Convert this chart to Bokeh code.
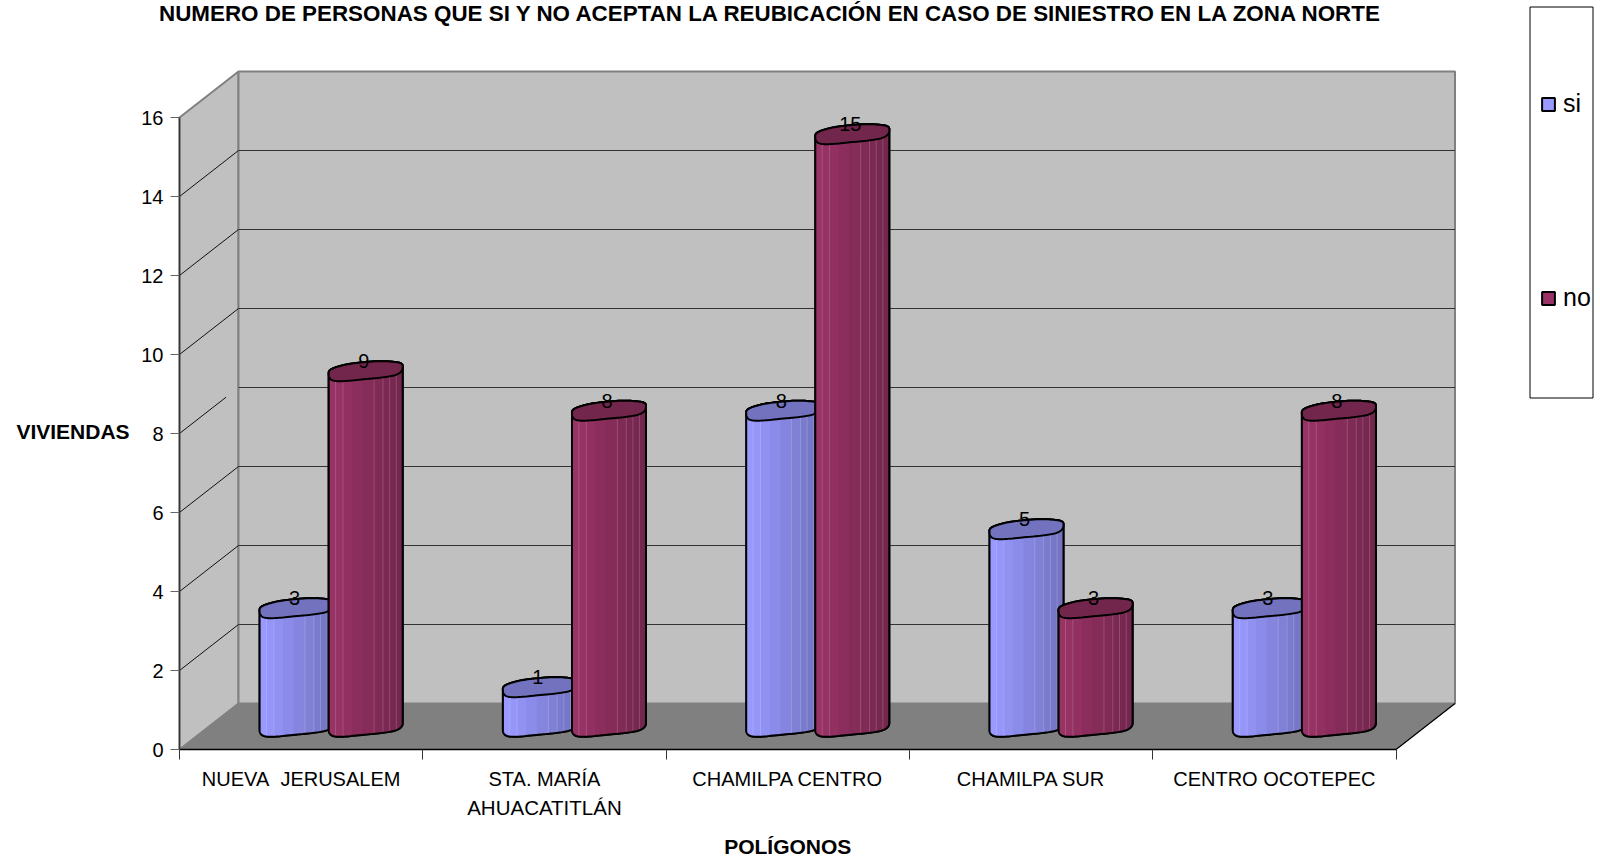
import numpy as np
from bokeh.plotting import figure
from bokeh.embed import file_html
from bokeh.resources import INLINE
from bokeh.models import Range1d, FixedTicker, LinearAxis, Legend, LegendItem, AllLabels, Label
from bokeh.core.properties import value

categories = ["NUEVA\u00a0 JERUSALEM", "STA. MARÍA", "CHAMILPA CENTRO", "CHAMILPA SUR", "CENTRO OCOTEPEC"]
category_second_line = "AHUACATITLÁN"
si_values = [3, 1, 8, 5, 3]
no_values = [9, 8, 15, 3, 8]
y_ticks = [0, 2, 4, 6, 8, 10, 12, 14, 16]
title_text = "NUMERO DE PERSONAS QUE SI Y NO ACEPTAN LA REUBICACIÓN EN CASO DE SINIESTRO EN LA ZONA NORTE"
FONT = "Liberation Sans"

W, H = 1600, 862
LEFT, BOTTOM = 179, 113    # page position of the axis origin: LEFT from the left, BOTTOM from the bottom
PX_X, PX_Y = 243.3, 39.5   # px per category / per unit
DX, DY = 59 / PX_X, 46 / PX_Y  # 3D depth of the box in data units
TOP_Y = (H - BOTTOM) / PX_Y


def page_x(px):
    return (px - LEFT) / PX_X


def page_y(py):
    return (H - BOTTOM - py) / PX_Y


p = figure(width=W, height=H, output_backend="svg", toolbar_location=None,
           x_range=Range1d(-LEFT / PX_X, (W - LEFT) / PX_X), y_range=Range1d(-BOTTOM / PX_Y, TOP_Y),
           min_border=0, outline_line_color=None, x_axis_type=None, y_axis_type=None)
p.grid.visible = False

n = len(categories)
ymax = y_ticks[-1]
# walls and floor
p.patch([0, DX, DX, 0], [0, DY, ymax + DY, ymax], fill_color="#C0C0C0", line_color="#808080", line_width=2)
p.patch([DX, n + DX, n + DX, DX], [DY, DY, ymax + DY, ymax + DY], fill_color="#C0C0C0", line_color="#808080", line_width=2)
p.patch([0, DX, n + DX, n], [0, DY, DY, 0], fill_color="#808080", line_color="#808080", line_width=1)
p.line([n, n + DX], [0, DY], line_color="#000000", line_width=1.2)

# gridlines
grid = y_ticks[1:-1]
p.multi_line([[DX, n + DX] for _ in grid], [[v + DY, v + DY] for v in grid], line_color="#333333", line_width=1.2)
reach = [0.79 if v == 8 else 1.0 for v in grid]
p.multi_line([[0, DX * r] for r in reach], [[v, v + DY * r] for v, r in zip(grid, reach)], line_color="#111111", line_width=1)

A = 37 / PX_X
B = 8.5 / PX_Y
SK = 3.5 / PX_Y
EXP = 3.0


def rim(cx, cy, t):
    c, s = np.cos(t), np.sin(t)
    wob = 1 + 0.025 * np.cos(3 * t + 1.0) + 0.02 * np.sin(5 * t)
    ux = np.sign(c) * np.abs(c) ** (2 / EXP) * wob
    uy = np.sign(s) * np.abs(s) ** (2 / EXP) * wob
    return cx + A * ux, cy + B * uy + SK * ux


def mix(c1, c2, f):
    a = [int(c1[i:i + 2], 16) for i in (1, 3, 5)]
    b = [int(c2[i:i + 2], 16) for i in (1, 3, 5)]
    return "#%02x%02x%02x" % tuple(int(round(x + (y - x) * f)) for x, y in zip(a, b))


STRIPS = np.array([0, .1, .2, .33, .47, .62, .74, .83, .92, 1.0])
SEAMS = [.1, .2, .62, .74, .83, .92]


def series(vals, off, light, dark):
    ts_front = np.linspace(np.pi, 2 * np.pi, 60)
    ts_back = np.linspace(0, np.pi, 60)
    sil_x, sil_y, cap_x, cap_y = [], [], [], []
    sx, sy, sc = [], [], []
    seam_x, seam_y = [], []
    for i, v in enumerate(vals):
        cx = i + 0.5 + off + DX / 2
        base = DY / 2
        fx, fy = rim(cx, base, ts_front)
        bx, by = rim(cx, base + v, ts_back)
        sil_x.append(list(fx) + list(bx))
        sil_y.append(list(fy) + list(by))
        tx, ty = rim(cx, base + v, np.linspace(0, 2 * np.pi, 120))
        cap_x.append(list(tx)); cap_y.append(list(ty))
        order = np.argsort(fx)
        xf, yf = fx[order], fy[order]
        for j in range(len(STRIPS) - 1):
            xs = np.linspace(cx - A + 2 * A * STRIPS[j], cx - A + 2 * A * STRIPS[j + 1], 5)
            yb = np.interp(xs, xf, yf)
            sx.append(list(xs) + list(xs[::-1]))
            sy.append(list(yb) + list((yb + v)[::-1]))
            f = ((STRIPS[j] + STRIPS[j + 1]) / 2)
            sc.append(mix(light, dark, min(1, max(0, (f - .08) / .92))))
        for u in SEAMS:
            x0 = cx - A + 2 * A * u
            y0 = float(np.interp(x0, xf, yf))
            seam_x.append([x0, x0]); seam_y.append([y0, y0 + v])
    body = p.patches(sil_x, sil_y, fill_color=light, line_color="#000000", line_width=2)
    p.patches(sx, sy, fill_color=sc, line_color=sc, line_width=0.5)
    p.multi_line(seam_x, seam_y, line_color="#ffffff", line_alpha=0.18, line_width=1)
    p.patches(sil_x, sil_y, fill_color=None, line_color="#000000", line_width=2)
    p.patches(cap_x, cap_y, fill_color=dark, line_color="#000000", line_width=2)
    return body


OFF = 0.142
r_si = series(si_values, -OFF, "#9999FF", "#7272BF")
r_no = series(no_values, OFF, "#993366", "#72264C")

# data labels
lab_x, lab_y, lab_t = [], [], []
for i in range(n):
    for v, off in ((si_values[i], -OFF), (no_values[i], OFF)):
        lab_x.append(i + 0.5 + off + DX / 2 - 1.5 / PX_X)
        lab_y.append(v + DY / 2 + 10 / PX_Y)
        lab_t.append(str(v))
p.text(lab_x, lab_y, lab_t, text_font=value(FONT), text_font_size="20px", text_color="#000000",
       text_align="center", text_baseline="middle")

# axes, fixed at the data origin
yax = LinearAxis(ticker=FixedTicker(ticks=y_ticks), bounds=(0, ymax), fixed_location=0)
yax.axis_line_color = "#333333"; yax.axis_line_width = 1.5
yax.major_tick_in = 0; yax.major_tick_out = 9; yax.major_tick_line_color = "#666666"; yax.minor_tick_line_color = None
yax.major_label_text_font = FONT; yax.major_label_text_font_size = "20px"; yax.major_label_text_color = "#000000"
yax.major_label_standoff = 7
p.add_layout(yax, "left")

centers = [i + 0.5 for i in range(n)]
xax = LinearAxis(ticker=FixedTicker(ticks=centers, minor_ticks=list(range(n + 1))), bounds=(0, n), fixed_location=0)
xax.major_label_overrides = {c: t for c, t in zip(centers, categories)}
xax.major_label_policy = AllLabels()
xax.major_tick_line_color = None; xax.major_tick_in = 0; xax.major_tick_out = 0
xax.minor_tick_in = 0; xax.minor_tick_out = 10; xax.minor_tick_line_color = "#333333"
xax.axis_line_color = "#000000"; xax.axis_line_width = 1.5
xax.major_label_text_font = FONT; xax.major_label_text_font_size = "20px"; xax.major_label_text_color = "#000000"
xax.major_label_standoff = 8
p.add_layout(xax, "below")

# texts outside the box
for txt, x, y, style, size in [
    (title_text, page_x(771), page_y(13), "bold", "22.4px"),
    (category_second_line, 1.5, page_y(807), "normal", "20.5px"),
    ("POLÍGONOS", 2.5, page_y(846), "bold", "21px"),
    ("VIVIENDAS", page_x(72.5), page_y(431), "bold", "21px"),
]:
    p.add_layout(Label(x=x, y=y, text=txt, text_font=FONT, text_font_style=style, text_font_size=size,
                       text_color="#000000", text_align="center", text_baseline="middle"))

# legend: box, then entries
p.quad(left=[page_x(1529.5)], right=[page_x(1592.5)], top=[page_y(6.5)], bottom=[page_y(397.5)],
       fill_color="#ffffff", line_color="#000000", line_width=1)
legend = Legend(items=[LegendItem(label="si", renderers=[r_si]), LegendItem(label="no", renderers=[r_no])],
                location=(1540, 550), orientation="vertical",
                glyph_width=16, glyph_height=16, label_standoff=7, spacing=165, padding=10, margin=0,
                label_text_font=FONT, label_text_font_size="25px", label_text_color="#000000",
                border_line_color=None, background_fill_alpha=0,
                label_height=27, label_width=27)
p.add_layout(legend, "center")

open("out.html", "w").write(file_html(p, INLINE))
